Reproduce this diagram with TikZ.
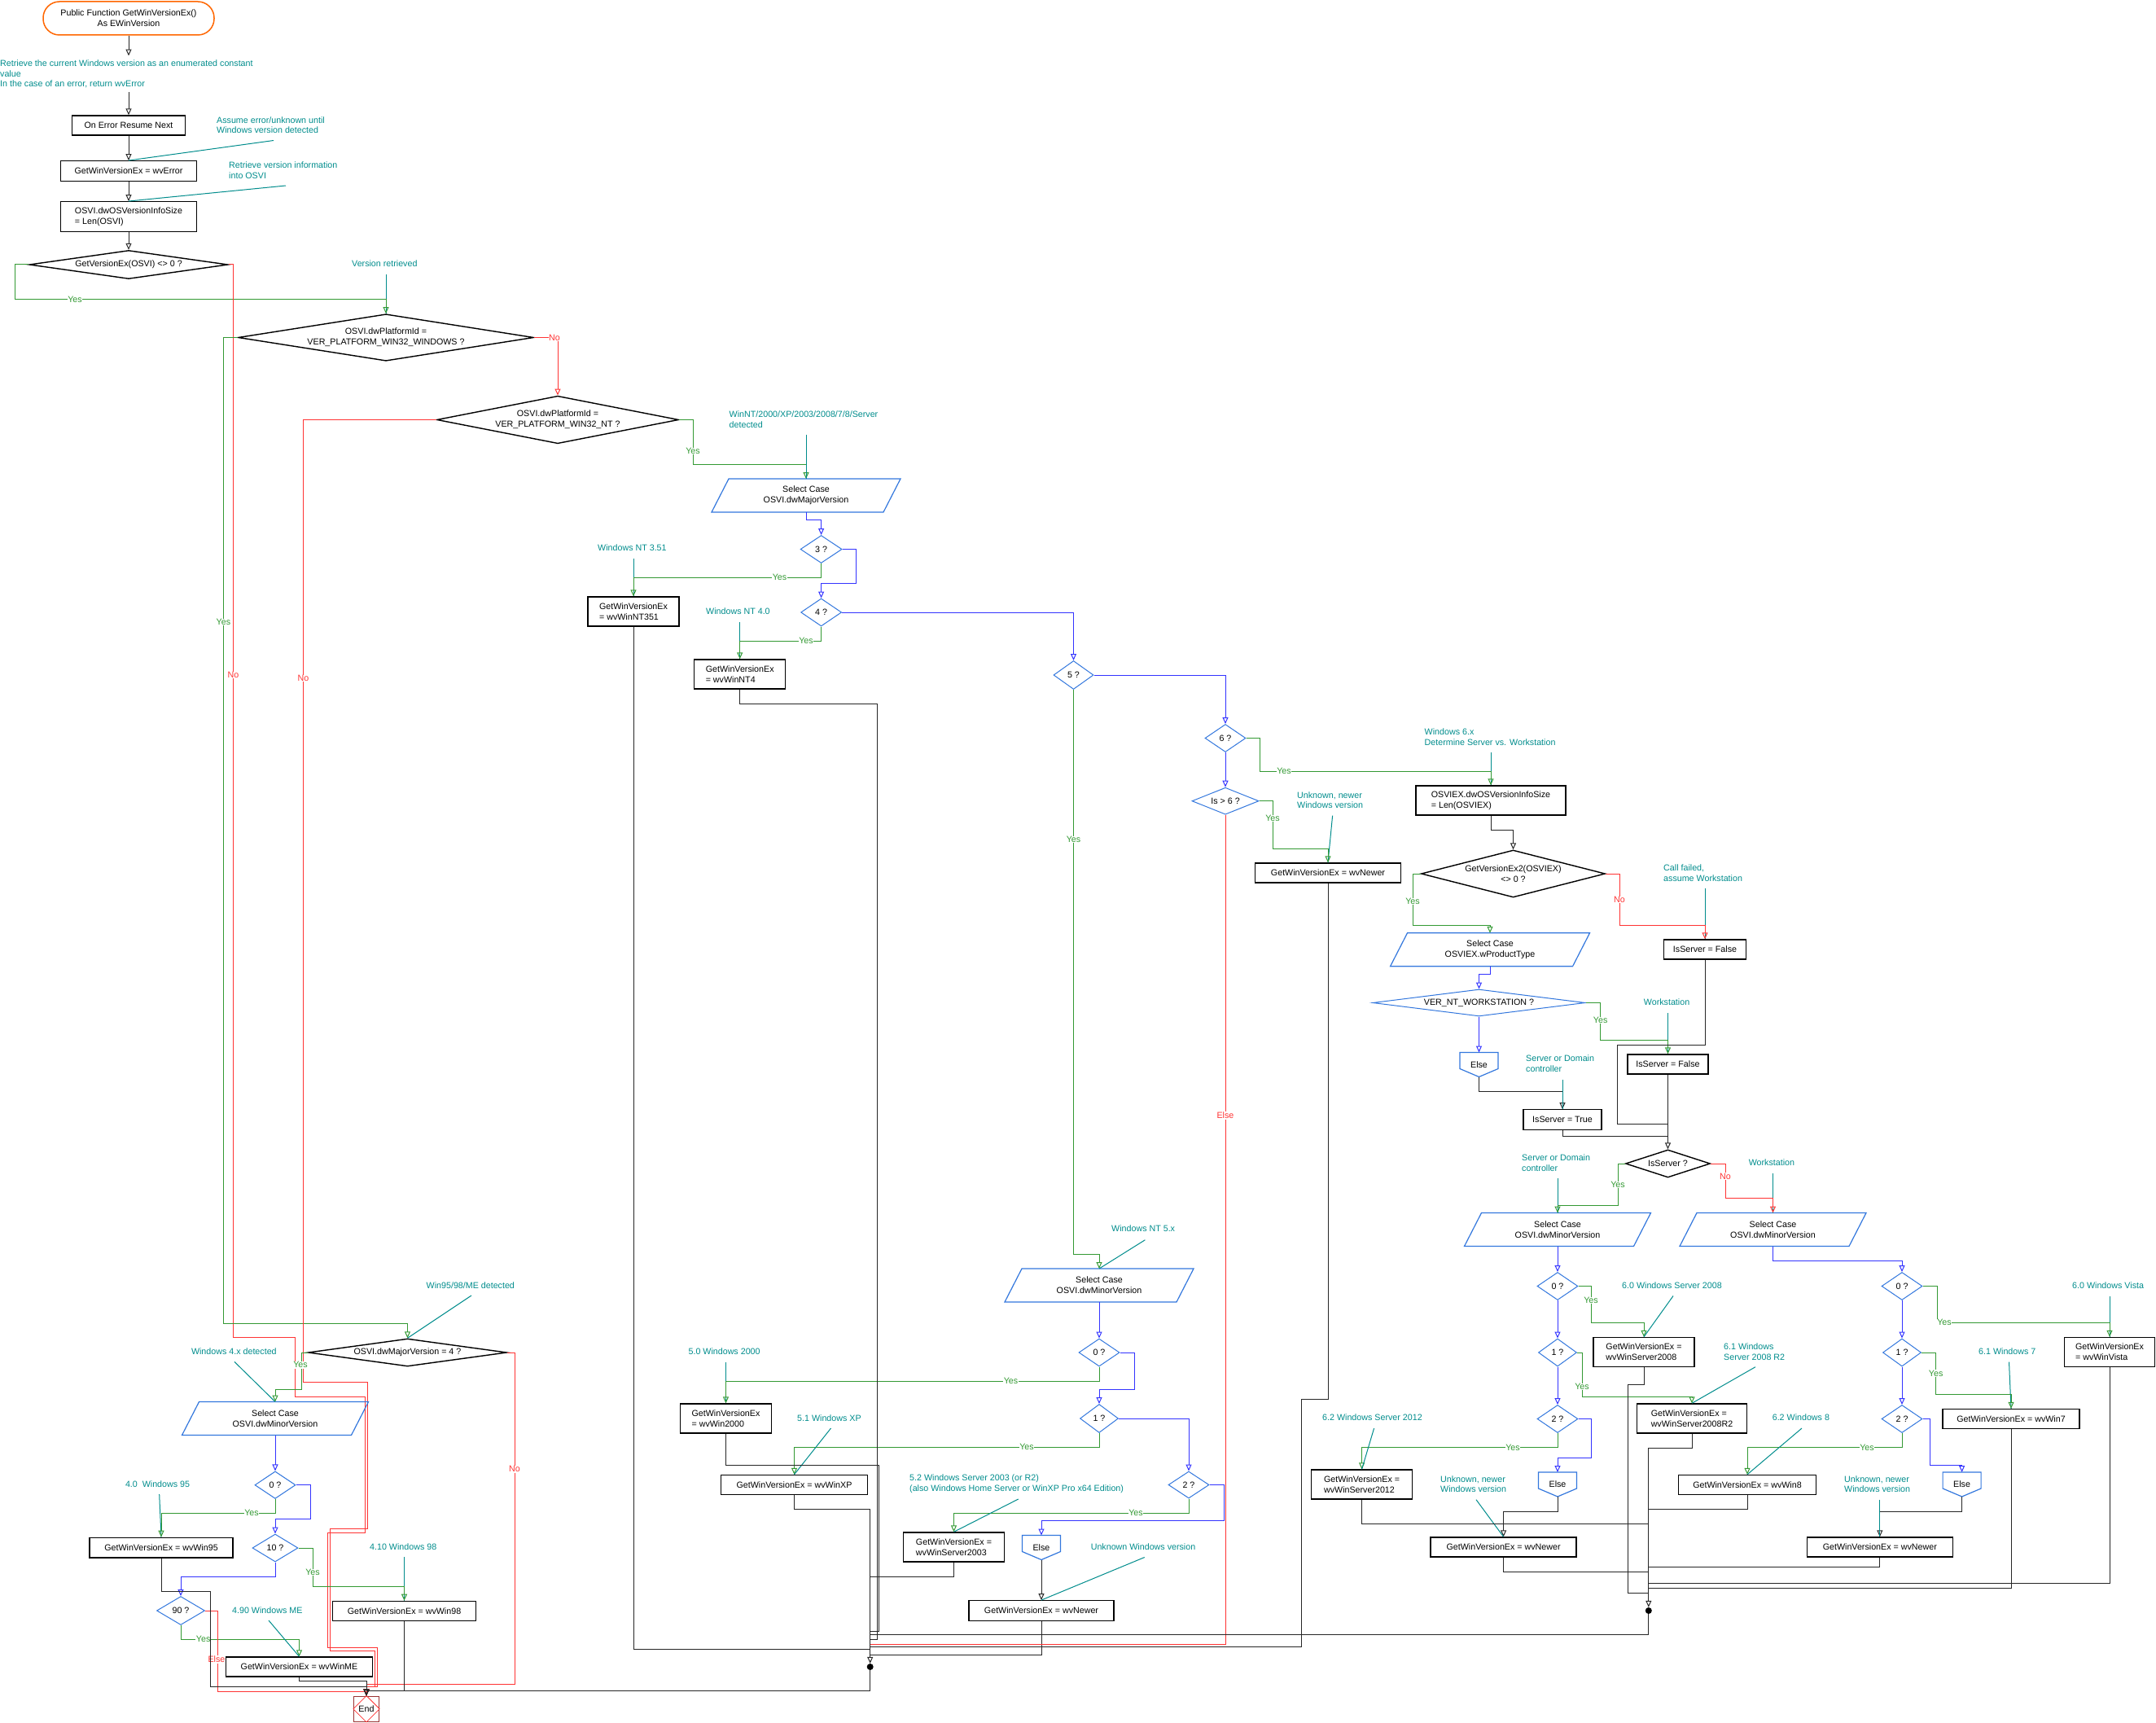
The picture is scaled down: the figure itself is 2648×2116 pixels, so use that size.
\documentclass[tikz,border=0pt]{standalone}
\usepackage{fontspec}
\setmainfont{Liberation Sans}
\usetikzlibrary{arrows.meta,shapes.geometric,calc}

\definecolor{cmt}{RGB}{0,140,140}
\definecolor{yesg}{RGB}{51,153,51}
\definecolor{nored}{RGB}{255,51,51}
\definecolor{caseb}{RGB}{51,51,255}
\definecolor{shapeb}{RGB}{51,119,221}
\definecolor{startor}{RGB}{255,102,0}
\definecolor{endbr}{RGB}{153,51,51}

% Select Case box: named node plus slanted outline
\newcommand{\selcase}[5][211]{%
  \node[selbox, minimum width=#1] (#2) at (#3,#4) {#5};
  \draw[shapeb, line width=1.2pt]
    ([xshift=10.5pt]#2.north west) -- ([xshift=10.5pt]#2.north east)
    -- ([xshift=-10.5pt]#2.south east) -- ([xshift=-10.5pt]#2.south west) -- cycle;}
% Else box: pentagon pointing down
\newcommand{\elsecase}[3]{%
  \node[elsebox] (#1) at (#2,#3) {Else};
  \draw[shapeb, line width=1.2pt]
    (#1.north west) -- (#1.north east) -- ([yshift=10pt]#1.south east)
    -- (#1.south) -- ([yshift=10pt]#1.south west) -- cycle;}

\begin{document}
\begin{tikzpicture}[x=1pt, y=-1pt,
  every node/.style={font=\fontsize{10.7}{12.7}\selectfont},
  terminal/.style={rectangle, rounded corners=20pt, draw=startor, line width=1.5pt,
    minimum width=210, minimum height=41, align=center},
  proc/.style={rectangle, draw=black, line width=1.4pt, align=left, inner sep=2pt},
  decision/.style={diamond, draw=black, line width=1.4pt, inner sep=-2pt, align=center},
  casetest/.style={diamond, draw=shapeb, line width=1pt, inner sep=0pt,
    minimum width=50, minimum height=34, shape aspect=1.5},
  selbox/.style={rectangle, minimum height=41, inner sep=0pt, outer sep=0pt, align=center},
  elsebox/.style={rectangle, minimum width=47, minimum height=30, inner sep=0pt, outer sep=0pt},
  cmtnode/.style={anchor=west, align=left, inner sep=0pt, text=cmt},
  flowline/.style={draw=black!85, line width=1pt, -{Triangle[open, length=8pt, width=7pt]}},
  mergeline/.style={draw=black!85, line width=1pt},
  yesline/.style={draw=yesg, line width=1pt, -{Triangle[open, length=8pt, width=7pt]}},
  noline/.style={draw=nored, line width=1pt, -{Triangle[open, length=8pt, width=7pt]}},
  caseline/.style={draw=caseb, line width=1pt, -{Triangle[open, length=8pt, width=7pt]}},
  hintline/.style={draw=cmt, line width=1pt},
  lbl/.style={fill=white, inner sep=0.6pt},
  junction/.style={circle, fill=black, inner sep=0pt, minimum size=8pt}
]
  \useasboundingbox (0,0) rectangle (2648,2116);

  % === Entry ===
  \node[terminal] (start) at (158,22.5) {Public Function GetWinVersionEx()\\As EWinVersion};
  \node[cmtnode] (c-desc) at (0,91)
    {Retrieve the current Windows version as an enumerated constant\\value\\In the case of an error, return wvError};
  \node[proc, minimum width=139, minimum height=24] (onerr) at (158,154) {On Error Resume Next};
  \node[proc, minimum width=167, minimum height=24.5] (errset) at (158,210) {GetWinVersionEx = wvError};
  \node[proc, minimum width=167, minimum height=36.5] (osvisize) at (158,266) {OSVI.dwOSVersionInfoSize\\= Len(OSVI)};
  \node[decision, minimum width=244, minimum height=35, shape aspect=7] (getver) at (158,325) {GetVersionEx(OSVI) <> 0 ?};
  \node[decision, minimum width=363, minimum height=57.5, shape aspect=6.3] (platwin) at (474,414.5)
    {OSVI.dwPlatformId =\\VER\_PLATFORM\_WIN32\_WINDOWS ?};
  \node[decision, minimum width=297, minimum height=58.5, shape aspect=5.1] (platnt) at (685,515.5)
    {OSVI.dwPlatformId =\\VER\_PLATFORM\_WIN32\_NT ?};
  \node[decision, minimum width=244, minimum height=34, shape aspect=7] (majver) at (500.5,1661) {OSVI.dwMajorVersion = 4 ?};
  \selcase{selmaj}{990}{608.5}{Select Case\\OSVI.dwMajorVersion}
  \node[rectangle, draw=endbr, line width=1.3pt, minimum size=31, inner sep=0pt] (endn) at (450,2098.7) {End};
  \draw[nored, line width=0.8pt] (endn.north) -- (endn.east) -- (endn.south) -- (endn.west) -- cycle;

  \node[cmtnode] (c-assume) at (266,153.7) {Assume error/unknown until\\Windows version detected};
  \coordinate (c-assume-t) at (336,172.5);
  \node[cmtnode] (c-retr) at (281,209.5) {Retrieve version information\\into OSVI};
  \coordinate (c-retr-t) at (351,228);
  \node[cmtnode] (c-verret) at (432,324) {Version retrieved};
  \coordinate (c-verret-t) at (474,337.5);

  \draw[flowline] (start.south) -- ($(start.south |- c-desc.north)+(0,-5)$);
  \draw[flowline] ($(start.south |- c-desc.south)+(0,5)$) -- (onerr.north);
  \draw[flowline] (onerr.south) -- (errset.north);
  \draw[flowline] (errset.south) -- (osvisize.north);
  \draw[flowline] (osvisize.south) -- (getver.north);
  \draw[hintline] (c-assume-t) -- (errset.north);
  \draw[hintline] (c-retr-t) -- (osvisize.north);
  \draw[hintline] (c-verret-t) -- (platwin.north);

  \draw[yesline] (getver.west) -| (18,367.5) -| (platwin.north);
  \draw[noline] (getver.east) -- (286.4,325) -- (286.4,1642) -- (362,1642) -- (362,1715)
    -- (448,1715) -- (448,1882) -- (402,1882) -- (402,2023) -- (463,2023) -- (463,2071) -| (endn.north);
  \draw[yesline] (platwin.west) -| (274.4,1625) -| (majver.north);
  \draw[noline] (platwin.east) -| (platnt.north);
  \draw[noline] (platnt.west) -| (372.5,1697) -- (451,1697) -- (451,1877) -- (405,1877)
    -- (405,2027) -- (460,2027) -- (460,2071) -| (endn.north);
  \draw[yesline] (platnt.east) -| (851,570) -| (selmaj.north);
  \node[lbl, text=yesg] (l-y1) at (92,367.5) {Yes};
  \node[lbl, text=nored] (l-n1) at (286.4,829) {No};
  \node[lbl, text=yesg] (l-y2) at (274.4,764) {Yes};
  \node[lbl, text=nored] (l-n2) at (681,414.5) {No};
  \node[lbl, text=nored] (l-n3) at (372.5,833) {No};
  \node[lbl, text=yesg] (l-y3) at (851,554) {Yes};

  % === NT: major version ===
  \node[cmtnode] (c-winnt) at (895.5,515) {WinNT/2000/XP/2003/2008/7/8/Server\\detected};
  \coordinate (c-winnt-t) at (990,533.6);
  \draw[hintline] (c-winnt-t) -- (selmaj.north);
  \node[casetest, minimum width=51] (d3) at (1008.6,674.5) {3 ?};
  \node[casetest] (d4) at (1008.6,752) {4 ?};
  \node[casetest, minimum width=49, minimum height=35] (d5) at (1318.5,829) {5 ?};
  \node[casetest] (d6) at (1505,906.5) {6 ?};
  \node[casetest, minimum width=82, minimum height=33, shape aspect=2.5] (dgt6) at (1505,983.7) {Is > 6 ?};
  \draw[caseline] (selmaj.south) -- (990,638) -| (d3.north);
  \draw[caseline] (d3.east) -| (1051.6,716.3) -| (d4.north);
  \draw[caseline] (d4.east) -| (d5.north);
  \draw[caseline] (d5.east) -| (d6.north);
  \draw[caseline] (d6.south) -- (dgt6.north);

  \node[cmtnode] (c-nt351) at (734,673) {Windows NT 3.51};
  \coordinate (c-nt351-t) at (778,686);
  \node[proc, minimum width=112, minimum height=36] (nt351) at (778,751) {GetWinVersionEx\\= wvWinNT351};
  \draw[hintline] (c-nt351-t) -- (nt351.north);
  \draw[yesline] (d3.south) |- (778,709) -- (nt351.north);
  \node[lbl, text=yesg] (l-y4) at (957.5,709) {Yes};

  \node[cmtnode] (c-nt4) at (867,751) {Windows NT 4.0};
  \coordinate (c-nt4-t) at (908.7,764);
  \node[proc, minimum width=112, minimum height=36] (nt4) at (908.7,828) {GetWinVersionEx\\= wvWinNT4};
  \draw[hintline] (c-nt4-t) -- (nt4.north);
  \draw[yesline] (d4.south) |- (908.7,787) -- (nt4.north);
  \node[lbl, text=yesg] (l-y5) at (990,787) {Yes};

  % === Windows 6.x ===
  \node[cmtnode] (c-win6x) at (1749.5,905.5) {Windows 6.x\\Determine Server vs. Workstation};
  \coordinate (c-win6x-t) at (1831,924);
  \node[proc, minimum width=184, minimum height=36] (osviex) at (1831,983) {OSVIEX.dwOSVersionInfoSize\\= Len(OSVIEX)};
  \draw[hintline] (c-win6x-t) -- (osviex.north);
  \draw[yesline] (d6.east) -| (1547,947.3) -| (osviex.north);
  \node[lbl, text=yesg] (l-y6) at (1577,947.3) {Yes};

  \node[cmtnode] (c-newer1) at (1593,982.7) {Unknown, newer\\Windows version};
  \coordinate (c-newer1-t) at (1636.6,1001.7);
  \node[proc, minimum width=179, minimum height=24] (newer1) at (1631,1072) {GetWinVersionEx = wvNewer};
  \draw[hintline] (c-newer1-t) -- (newer1.north);
  \draw[yesline] (dgt6.east) -| (1563,1042) -| (newer1.north);
  \node[lbl, text=yesg] (l-y7) at (1563,1005) {Yes};

  % === NT 5.x ===
  \node[cmtnode] (c-nt5x) at (1365,1508.7) {Windows NT 5.x};
  \coordinate (c-nt5x-t) at (1406.4,1522.7);
  \selcase{selnt5}{1350}{1578.5}{Select Case\\OSVI.dwMinorVersion}
  \draw[hintline] (c-nt5x-t) -- (selnt5.north);
  \draw[yesline] (d5.south) -- (1318.5,1540) -| (selnt5.north);
  \node[lbl, text=yesg] (l-y8) at (1318.5,1031) {Yes};
  \node[casetest] (nt5a) at (1350,1661) {0 ?};
  \node[casetest, minimum width=47, minimum height=35] (nt5b) at (1350,1742) {1 ?};
  \node[casetest, minimum height=33] (nt5c) at (1460,1823.5) {2 ?};
  \draw[caseline] (selnt5.south) -- (nt5a.north);
  \draw[caseline] (nt5a.east) -| (1393.6,1706.5) -| (nt5b.north);
  \draw[caseline] (nt5b.east) -| (nt5c.north);

  \node[cmtnode] (c-w2000) at (845.4,1660) {5.0 Windows 2000};
  \coordinate (c-w2000-t) at (891.5,1672.8);
  \node[proc, minimum width=112, minimum height=36] (w2000) at (891.5,1742) {GetWinVersionEx\\= wvWin2000};
  \draw[hintline] (c-w2000-t) -- (w2000.north);
  \draw[yesline] (nt5a.south) |- (891.5,1696) -- (w2000.north);
  \node[lbl, text=yesg] (l-y9) at (1241.5,1696) {Yes};

  \node[cmtnode] (c-wxp) at (979,1741.5) {5.1 Windows XP};
  \coordinate (c-wxp-t) at (1020.5,1754);
  \node[proc, minimum width=180, minimum height=24] (wxp) at (975.5,1823.5) {GetWinVersionEx = wvWinXP};
  \draw[yesline] (nt5b.south) |- (975.5,1777) -- (wxp.north);
  \draw[hintline] (c-wxp-t) -- (wxp.north);
  \node[lbl, text=yesg] (l-y10) at (1261,1777) {Yes};

  \node[cmtnode] (c-ws2003) at (1117,1822.5)
    {5.2 Windows Server 2003 (or R2)\\(also Windows Home Server or WinXP Pro x64 Edition)};
  \coordinate (c-ws2003-t) at (1250.7,1841);
  \node[proc, minimum width=124, minimum height=36] (ws2003) at (1171.5,1900) {GetWinVersionEx =\\wvWinServer2003};
  \draw[yesline] (nt5c.south) |- (1171.5,1858) -- (ws2003.north);
  \draw[hintline] (c-ws2003-t) -- (ws2003.north);
  \node[lbl, text=yesg] (l-y11) at (1395,1858) {Yes};

  \elsecase{else5}{1279}{1900.5}
  \draw[caseline] (nt5c.east) -| (1503.8,1867.4) -| (else5.north);
  \node[cmtnode] (c-unk5) at (1339.6,1900) {Unknown Windows version};
  \coordinate (c-unk5-t) at (1405.7,1912.5);
  \node[proc, minimum width=178, minimum height=24.5] (newer5) at (1279,1978) {GetWinVersionEx = wvNewer};
  \draw[flowline] (else5.south) -- (newer5.north);
  \draw[hintline] (c-unk5-t) -- (newer5.north);

  % === OSVIEX: server or workstation ===
  \node[decision, inner sep=-3pt, minimum width=226, minimum height=58, shape aspect=3.9] (gv2) at (1858.5,1073)
    {GetVersionEx2(OSVIEX)\\<> 0 ?};
  \draw[flowline] (osviex.south) -- (1831,1019) -| (gv2.north);
  \node[cmtnode] (c-callf) at (2043,1072) {Call failed,\\assume Workstation};
  \coordinate (c-callf-t) at (2094,1090.6);
  \node[proc, minimum width=101, minimum height=24] (isf1) at (2094,1166) {IsServer = False};
  \draw[hintline] (c-callf-t) -- (isf1.north);
  \draw[noline] (gv2.east) -| (1989,1136.4) -| (isf1.north);
  \node[lbl, text=nored] (l-n4) at (1989,1105) {No};

  \selcase[224]{selpt}{1830}{1166.3}{Select Case\\OSVIEX.wProductType}
  \draw[yesline] (gv2.west) -| (1735,1136.4) -| (selpt.north);
  \node[lbl, text=yesg] (l-y12) at (1735,1107) {Yes};
  \node[decision, draw=shapeb, line width=1pt, minimum width=261, minimum height=33, shape aspect=7.9]
    (vnt) at (1816.5,1231.5) {VER\_NT\_WORKSTATION ?};
  \draw[caseline] (selpt.south) -- (1830,1196.5) -| (vnt.north);

  \node[cmtnode] (c-ws1) at (2018.7,1231) {Workstation};
  \coordinate (c-ws1-t) at (2048.5,1244);
  \node[proc, minimum width=99, minimum height=24] (isf2) at (2048.5,1307) {IsServer = False};
  \draw[hintline] (c-ws1-t) -- (isf2.north);
  \draw[yesline] (vnt.east) -| (1965.6,1277.6) -| (isf2.north);
  \node[lbl, text=yesg] (l-y13) at (1965.6,1253) {Yes};

  \elsecase{else6}{1816.5}{1307.5}
  \draw[caseline] (vnt.south) -- (else6.north);
  \node[cmtnode] (c-sdc1) at (1874,1306.5) {Server or Domain\\controller};
  \coordinate (c-sdc1-t) at (1919,1326);
  \node[proc, minimum width=96, minimum height=24.5] (ist) at (1919,1375) {IsServer = True};
  \draw[flowline] (else6.south) -- (1816.5,1340) -| (ist.north);
  \draw[hintline] (c-sdc1-t) -- (ist.north);

  \node[decision, minimum width=104, minimum height=34, shape aspect=3] (isserv) at (2048.5,1429) {IsServer ?};
  \draw[flowline] (isf2.south) -- (isserv.north);
  \draw[mergeline] (isf1.south) |- (1986.6,1283.4) |- ([yshift=31pt]isserv.north);
  \draw[mergeline] (ist.south) |- ([yshift=16pt]isserv.north);

  \selcase[208]{sels}{1913}{1510}{Select Case\\OSVI.dwMinorVersion}
  \selcase[208]{selw}{2177.5}{1510}{Select Case\\OSVI.dwMinorVersion}
  \node[cmtnode] (c-sdc2) at (1869,1428.5) {Server or Domain\\controller};
  \coordinate (c-sdc2-t) at (1913,1447);
  \draw[hintline] (c-sdc2-t) -- (sels.north);
  \draw[yesline] (isserv.west) -| (1987,1480) -| (sels.north);
  \node[lbl, text=yesg] (l-y14) at (1987,1455) {Yes};
  \node[cmtnode] (c-ws2) at (2147.6,1428) {Workstation};
  \coordinate (c-ws2-t) at (2177.5,1440.6);
  \draw[hintline] (c-ws2-t) -- (selw.north);
  \draw[noline] (isserv.east) -| (2119,1471) -| (selw.north);
  \node[lbl, text=nored] (l-n5) at (2119,1444.4) {No};

  % --- server editions ---
  \node[casetest] (sa) at (1913,1579.5) {0 ?};
  \node[casetest, minimum width=47] (sb) at (1913,1661) {1 ?};
  \node[casetest] (sc) at (1913,1742.5) {2 ?};
  \elsecase{selse}{1913}{1823}
  \draw[caseline] (sels.south) -- (sa.north);
  \draw[caseline] (sa.south) -- (sb.north);
  \draw[caseline] (sb.south) -- (sc.north);
  \draw[caseline] (sc.east) -| (1954,1790.5) -| (selse.north);

  \node[cmtnode] (c-ws2008) at (1992,1578.5) {6.0 Windows Server 2008};
  \coordinate (c-ws2008-t) at (2055,1591.5);
  \node[proc, minimum width=124, minimum height=36] (ws2008) at (2019,1660.5) {GetWinVersionEx =\\wvWinServer2008};
  \draw[yesline] (sa.east) -| (1954,1624) -| (ws2008.north);
  \draw[hintline] (c-ws2008-t) -- (ws2008.north);
  \node[lbl, text=yesg] (l-y15) at (1954,1597) {Yes};

  \node[cmtnode] (c-ws2008r2) at (2117,1660) {6.1 Windows\\Server 2008 R2};
  \coordinate (c-ws2008r2-t) at (2156,1678.7);
  \node[proc, minimum width=135, minimum height=36] (ws2008r2) at (2078,1742) {GetWinVersionEx =\\wvWinServer2008R2};
  \draw[yesline] (sb.east) -| (1943,1715.5) -| (ws2008r2.north);
  \draw[hintline] (c-ws2008r2-t) -- (ws2008r2.north);
  \node[lbl, text=yesg] (l-y16) at (1943,1703) {Yes};

  \node[cmtnode] (c-ws2012) at (1624,1741) {6.2 Windows Server 2012};
  \coordinate (c-ws2012-t) at (1687.6,1754);
  \node[proc, minimum width=124, minimum height=36] (ws2012) at (1672.6,1823) {GetWinVersionEx =\\wvWinServer2012};
  \draw[yesline] (sc.south) |- (1672.6,1777.5) -- (ws2012.north);
  \draw[hintline] (c-ws2012-t) -- (ws2012.north);
  \node[lbl, text=yesg] (l-y17) at (1858,1777.5) {Yes};

  \node[cmtnode] (c-unks) at (1769,1822.7) {Unknown, newer\\Windows version};
  \coordinate (c-unks-t) at (1813,1841.7);
  \node[proc, minimum width=179, minimum height=24] (newers) at (1846.6,1900) {GetWinVersionEx = wvNewer};
  \draw[flowline] (selse.south) -- (1913,1856) -| (newers.north);
  \draw[hintline] (c-unks-t) -- (newers.north);

  % --- workstation editions ---
  \node[casetest] (wa) at (2336,1579.5) {0 ?};
  \node[casetest, minimum width=47] (wb) at (2336,1661) {1 ?};
  \node[casetest] (wc) at (2336,1742.5) {2 ?};
  \elsecase{welse}{2409.6}{1823}
  \draw[caseline] (selw.south) -- (2177.5,1548) -| (wa.north);
  \draw[caseline] (wa.south) -- (wb.north);
  \draw[caseline] (wb.south) -- (wc.north);
  \draw[caseline] (wc.east) -| (2370,1799) -| (welse.north);

  \node[cmtnode] (c-vista) at (2545,1578.5) {6.0 Windows Vista};
  \coordinate (c-vista-t) at (2591,1591.5);
  \node[proc, minimum width=111, minimum height=36] (vista) at (2591,1660.5) {GetWinVersionEx\\= wvWinVista};
  \draw[hintline] (c-vista-t) -- (vista.north);
  \draw[yesline] (wa.east) -| (2379,1624) -| (vista.north);
  \node[lbl, text=yesg] (l-y18) at (2388,1624) {Yes};

  \node[cmtnode] (c-win7) at (2430,1660) {6.1 Windows 7};
  \coordinate (c-win7-t) at (2467.5,1672.6);
  \node[proc, minimum width=168, minimum height=24] (win7) at (2470,1742.5) {GetWinVersionEx = wvWin7};
  \draw[hintline] (c-win7-t) -- (win7.north);
  \draw[yesline] (wb.east) -| (2377.6,1712.4) -| (win7.north);
  \node[lbl, text=yesg] (l-y19) at (2377.6,1686.8) {Yes};

  \node[cmtnode] (c-win8) at (2176.6,1741) {6.2 Windows 8};
  \coordinate (c-win8-t) at (2213,1754);
  \node[proc, minimum width=169, minimum height=24] (win8) at (2146,1823.5) {GetWinVersionEx = wvWin8};
  \draw[yesline] (wc.south) |- (2146,1777.5) -- (win8.north);
  \draw[hintline] (c-win8-t) -- (win8.north);
  \node[lbl, text=yesg] (l-y20) at (2293,1777.5) {Yes};

  \node[cmtnode] (c-unkw) at (2265,1822.7) {Unknown, newer\\Windows version};
  \coordinate (c-unkw-t) at (2308.8,1841.7);
  \node[proc, minimum width=179, minimum height=24] (neww) at (2308.8,1900) {GetWinVersionEx = wvNewer};
  \draw[flowline] (welse.south) -- (2409.6,1856) -| (neww.north);
  \draw[hintline] (c-unkw-t) -- (neww.north);

  % --- 6.x merge ---
  \node[junction] (dotR) at (2024.8,1978) {};
  \coordinate (jR) at (2024.8,1778);
  \draw[mergeline] (ws2008r2.south) |- (jR);
  \draw[flowline] (jR) -- (dotR.north);
  \draw[mergeline] (ws2008.south) |- (1999,1700.5) |- ([yshift=22pt]dotR.center);
  \draw[mergeline] (ws2012.south) |- ([yshift=107pt]dotR.center);
  \draw[mergeline] (win8.south) |- ([yshift=124.4pt]dotR.center);
  \draw[mergeline] (newers.south) |- ([yshift=48pt]dotR.center);
  \draw[mergeline] (neww.south) |- ([yshift=53.6pt]dotR.center);
  \draw[mergeline] (vista.south) |- ([yshift=34pt]dotR.center);
  \draw[mergeline] (win7.south) |- ([yshift=27.6pt]dotR.center);

  % --- NT merge ---
  \node[junction] (dotL) at (1068.7,2047) {};
  \coordinate (jL) at (1068.7,1853);
  \draw[mergeline] (wxp.south) |- (jL);
  \draw[flowline] (jL) -- (dotL.north);
  \draw[mergeline] (nt351.south) |- ([yshift=22pt]dotL.center);
  \draw[mergeline] (nt4.south) |- (1077.5,864) |- ([yshift=34pt]dotL.center);
  \draw[mergeline] (w2000.south) |- (1079.6,1799.4) |- ([yshift=44pt]dotL.center);
  \draw[mergeline] (ws2003.south) |- ([yshift=111pt]dotL.center);
  \draw[mergeline] (newer5.south) |- ([yshift=15pt]dotL.center);
  \draw[mergeline] (newer1.south) -- (1631,1718.5) -| (1598.5,2022.4) -- ([yshift=24.6pt]dotL.center);
  \draw[noline, -] (dgt6.south) |- ([yshift=28pt]dotL.center);
  \node[lbl, text=nored] (l-e1) at (1505,1370) {Else};
  \draw[mergeline] (dotR.south) |- ([yshift=39.5pt]dotL.center);

  % === Win9x ===
  \node[cmtnode] (c-w9x) at (523.5,1578.8) {Win95/98/ME detected};
  \coordinate (c-w9x-t) at (579,1591);
  \draw[hintline] (c-w9x-t) -- (majver.north);
  \selcase[208]{sel9x}{338}{1742}{Select Case\\OSVI.dwMinorVersion}
  \node[cmtnode] (c-w4x) at (234.8,1660) {Windows 4.x detected};
  \coordinate (c-w4x-t) at (288,1672.4);
  \draw[hintline] (c-w4x-t) -- (sel9x.north);
  \draw[yesline] (majver.west) -| (370,1706.4) -| (sel9x.north);
  \node[lbl, text=yesg] (l-y21) at (369,1676.3) {Yes};

  \node[casetest, minimum height=33.5] (n0) at (338,1823.7) {0 ?};
  \node[casetest, minimum width=56] (n10) at (338,1901) {10 ?};
  \node[casetest, minimum width=59, minimum height=35] (n90) at (222,1978) {90 ?};
  \draw[caseline] (sel9x.south) -- (n0.north);
  \draw[caseline] (n0.east) -| (381.7,1865.3) -| (n10.north);
  \draw[caseline] (n10.south) -- (338,1936) -| (n90.north);

  \node[cmtnode] (c-w95) at (153.8,1822.8) {4.0~~Windows 95};
  \coordinate (c-w95-t) at (195.7,1835);
  \node[proc, minimum width=176, minimum height=24.5] (win95) at (198,1900.6) {GetWinVersionEx = wvWin95};
  \draw[hintline] (c-w95-t) -- (win95.north);
  \draw[yesline] (n0.south) |- (198,1858) -- (win95.north);
  \node[lbl, text=yesg] (l-y22) at (309,1858) {Yes};

  \node[cmtnode] (c-w98) at (454,1900) {4.10 Windows 98};
  \coordinate (c-w98-t) at (496.5,1912);
  \node[proc, minimum width=176, minimum height=24] (win98) at (496.5,1978.4) {GetWinVersionEx = wvWin98};
  \draw[hintline] (c-w98-t) -- (win98.north);
  \draw[yesline] (n10.east) -| (384,1948.3) -| (win98.north);
  \node[lbl, text=yesg] (l-y23) at (384,1931) {Yes};

  \node[cmtnode] (c-wme) at (285,1977.4) {4.90 Windows ME};
  \coordinate (c-wme-t) at (330,1990);
  \node[proc, minimum width=180, minimum height=24] (winme) at (367.5,2047) {GetWinVersionEx = wvWinME};
  \draw[yesline] (n90.south) |- (367.5,2013) -- (winme.north);
  \draw[hintline] (c-wme-t) -- (winme.north);
  \node[lbl, text=yesg] (l-y24) at (249.7,2013) {Yes};

  % === End ===
  \draw[noline] (n90.east) -| (267.5,2077.4) -| (endn.north);
  \node[lbl, text=nored] (l-e2) at (266,2038) {Else};
  \draw[noline] (majver.east) -| (632,2068) -| (endn.north);
  \node[lbl, text=nored] (l-n6) at (632,1804.3) {No};
  \draw[flowline] (win95.south) |- (258.3,1954) -- (258.3,2071) -| (endn.north);
  \draw[flowline] (winme.south) -- (367.5,2064.6) -| (endn.north);
  \draw[flowline] (win98.south) -- (496.5,2076) -| (endn.north);
  \draw[flowline] (dotL.south) -- (1068.7,2076) -| (endn.north);
\end{tikzpicture}
\end{document}
